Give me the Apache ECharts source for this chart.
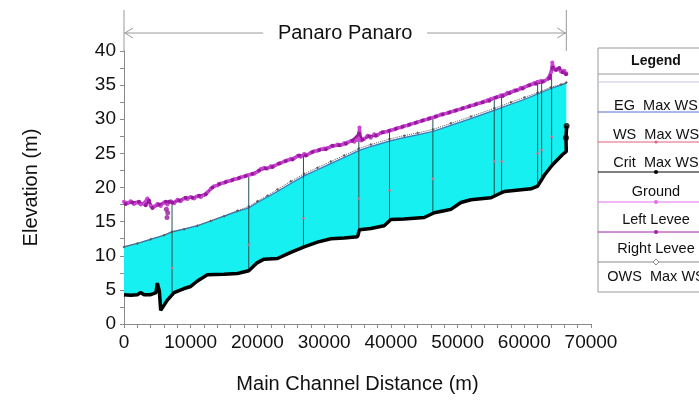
<!DOCTYPE html>
<html><head><meta charset="utf-8">
<script src="https://cdn.jsdelivr.net/npm/echarts@6/dist/echarts.min.js"></script>
<style>html,body{margin:0;padding:0;background:#fff}#c{width:699px;height:400px}</style>
</head><body><div id="c"></div>
<script>
// ---------- DATA ----------
const chartTitle = 'Panaro Panaro';
const xName = 'Main Channel Distance (m)';
const yName = 'Elevation (m)';
const reachEnd = 66300;

const groundDist = [0,1000,2000,2500,3000,4000,4800,5000,5300,5500,6500,7500,9000,10000,11000,12500,15000,17000,18700,20000,21000,23000,25000,27000,29000,31000,33000,35000,35300,37000,39000,40000,42000,45000,46500,48000,49000,50500,52000,55000,56500,57000,61000,62000,63000,64200,65700,66300];
const groundElev = [4.3,4.2,4.3,4.6,4.3,4.3,4.6,6.0,4.8,2.0,3.5,4.6,5.2,5.5,6.3,7.2,7.3,7.4,7.8,9.0,9.5,9.6,10.5,11.3,12.0,12.5,12.6,12.8,13.8,14.0,14.4,15.3,15.4,15.6,16.3,16.6,16.8,17.8,18.2,18.5,19.2,19.4,19.8,20.2,21.8,23.3,24.8,25.3];
const groundEndDist = [66250,66350];
const groundEndElev = [27.3,29.0];

const wsDist = [0,2000,4000,6000,7200,9000,11000,13000,15000,17000,18700,20000,21500,23000,25000,27000,29000,31000,33000,35200,37000,39800,42000,44000,46300,49000,52000,55500,58000,60000,62000,64000,65500,66300];
const wsElev = [11.3,11.8,12.4,13.0,13.5,13.9,14.4,15.1,15.8,16.5,17.0,17.8,18.6,19.4,20.6,21.7,22.6,23.5,24.4,25.4,26.0,26.8,27.3,27.7,28.2,29.1,30.1,31.3,32.2,32.9,33.7,34.5,35.0,35.3];
const egElev = [11.35,11.85,12.45,13.05,13.55,13.95,14.45,15.15,15.85,16.55,17.05,17.85,18.65,19.45,20.65,21.75,22.65,23.55,24.45,25.45,26.05,26.85,27.35,27.75,28.25,29.15,30.15,31.35,32.25,32.95,33.75,34.55,35.05,35.35];
const owsElev = [11.3,11.8,12.4,13.0,13.5,13.9,14.4,15.1,15.8,16.6,17.2,18.0,18.8,19.7,20.9,22.0,22.9,23.8,24.7,25.7,26.3,27.1,27.6,28.0,28.5,29.4,30.4,31.6,32.5,33.2,33.9,34.7,35.1,35.4];

const leftLeveeDist = [0,500,1000,1500,2000,2500,3000,3500,4000,4500,5000,5500,6000,6500,7000,7500,8000,8500,9000,9500,10000,10500,11000,11500,12000,12500,13000,13500,14000,14500,15000,15500,16000,16500,17000,17500,18000,18500,19000,19500,20000,20500,21000,21500,22000,22500,23000,23500,24000,24500,25000,25500,26000,26500,27000,27500,28000,28500,29000,29500,30000,30500,31000,31500,32000,32500,33000,33500,34000,34500,35000,35300,35500,36000,36500,37000,37500,38000,38500,39000,39500,40000,40500,41000,41500,42000,42500,43000,43500,44000,44500,45000,45500,46000,46500,47000,47500,48000,48500,49000,49500,50000,50500,51000,51500,52000,52500,53000,53500,54000,54500,55000,55500,56000,56500,57000,57500,58000,58500,59000,59500,60000,60500,61000,61500,62000,62500,63000,63500,64000,64200,64500,65000,65500,66000,66300];
const leftLeveeElev = [17.9,17.7,18.0,17.6,17.8,17.5,17.7,18.4,17.3,17.2,17.6,17.3,17.8,17.5,18.0,17.7,18.2,18.0,18.4,18.3,18.6,18.4,18.7,18.6,18.9,19.3,19.8,20.2,20.3,20.6,20.7,20.9,21.0,21.2,21.3,21.5,21.6,21.8,21.9,22.0,22.3,22.7,22.9,22.8,23.1,23.2,23.4,23.6,23.8,24.0,24.2,24.3,24.6,24.5,24.9,24.8,25.1,25.3,25.4,25.6,25.7,25.8,26.0,26.1,26.3,26.2,26.5,26.6,26.8,26.7,27.0,28.8,26.9,27.1,27.6,27.3,27.8,27.7,28.0,28.1,28.2,28.4,28.5,28.7,28.8,29.0,29.1,29.3,29.4,29.6,29.7,29.9,30.0,30.2,30.3,30.5,30.7,30.8,30.9,31.1,31.2,31.4,31.5,31.7,31.8,32.0,32.1,32.3,32.4,32.6,32.8,33.0,33.1,33.3,33.5,33.6,33.9,34.0,34.2,34.3,34.6,34.7,34.9,35.1,35.3,35.5,35.6,35.6,35.9,36.9,38.3,37.3,37.4,37.0,37.1,36.7];

const rightLeveeDist = [250,1250,2250,3250,3750,4250,5250,6250,6750,7250,8250,9250,10250,11250,12250,13250,14250,15250,16250,17250,18250,19250,20250,21250,22250,23250,24250,25250,26250,27250,28250,29250,30250,31250,32250,33250,34250,35250,35750,36750,37750,38750,39750,40750,41750,42750,43750,44750,45750,46750,47750,48750,49750,50750,51750,52750,53750,54750,55750,56750,57750,58750,59750,60750,61750,62750,63750,64250,64750,65250,65750,66250];
const rightLeveeElev = [17.6,17.8,17.9,17.4,18.1,17.0,17.5,17.9,17.9,17.8,18.1,18.5,18.5,18.8,19.0,20.0,20.5,20.8,21.1,21.4,21.7,22.0,22.5,22.8,23.0,23.5,23.9,24.1,24.7,24.7,25.2,25.5,25.6,26.1,26.2,26.4,26.9,27.9,27.0,27.5,27.6,28.1,28.3,28.6,28.9,29.2,29.5,29.8,30.1,30.4,30.7,31.0,31.3,31.6,31.9,32.2,32.5,32.7,33.2,33.4,33.8,34.2,34.5,35.0,35.2,35.5,36.0,37.6,37.2,37.5,36.9,36.6];
const leveeOutlierDist = [6350,6450,6550];
const leveeOutlierElev = [16.8,15.6,16.3];

const xsDist = [7200,18700,26900,35200,39800,46300,55500,56600,62000,62600,64100];
const xsBottom = [4.6,7.8,11.3,12.9,15.0,16.1,18.9,19.3,20.2,20.9,23.2];
const xsTop = [17.9,21.8,24.9,28.8,28.2,30.3,33.1,33.5,35.5,35.6,36.9];
const critElev = [8.2,11.6,15.5,18.4,19.6,21.3,23.8,23.8,25.0,25.5,27.4];

const legendNames = ['EG  Max WS','WS  Max WS','Crit  Max WS','Ground','Left Levee','Right Levee','OWS  Max WS'];
const legendColors = ['#c9c3e8','#5a6fd8','#e0607a','#000000','#e070e8','#a020a8','#888888'];

// ---------- BUILD ----------
const zip = (a, b) => a.map((d, i) => [d, b[i]]);
const FONT = '"Liberation Sans", Arial, Helvetica, sans-serif';
const chart = echarts.init(document.getElementById('c'), null, {renderer: 'canvas'});

const option = {
  animation: false,
  backgroundColor: '#fff',
  grid: {left: 124, right: 108, top: 51, bottom: 76},
  xAxis: {
    type: 'value', min: 0, max: 70000, interval: 10000,
    axisLine: {onZero: false, lineStyle: {color: '#8a8a8a', width: 1}},
    axisTick: {show: true, length: 4, lineStyle: {color: '#8a8a8a'}},
    minorTick: {show: true, splitNumber: 5, length: 4, lineStyle: {color: '#8a8a8a'}},
    splitLine: {show: false},
    axisLabel: {fontSize: 19, color: '#111', margin: 9, fontFamily: FONT, formatter: v => String(v)},
    name: xName, nameLocation: 'middle', nameGap: 50,
    nameTextStyle: {fontSize: 20, color: '#111', fontFamily: FONT}
  },
  yAxis: {
    type: 'value', min: 0, max: 40, interval: 5,
    axisLine: {show: true, lineStyle: {color: '#8a8a8a', width: 1}},
    axisTick: {show: true, length: 4, lineStyle: {color: '#8a8a8a'}},
    minorTick: {show: true, splitNumber: 2, length: 4, lineStyle: {color: '#8a8a8a'}},
    splitLine: {show: false},
    axisLabel: {fontSize: 19, color: '#111', margin: 8, fontFamily: FONT},
    name: yName, nameLocation: 'middle', nameGap: 83, nameRotate: 90,
    nameTextStyle: {fontSize: 20, color: '#111', fontFamily: FONT}
  },
  series: [
    {
      name: 'fill', type: 'custom', silent: true, z: 1, data: [0],
      renderItem: (params, api) => {
        const pts = wsDist.map((d, i) => api.coord([d, wsElev[i]]));
        for (let i = groundDist.length - 1; i >= 0; i--) pts.push(api.coord([groundDist[i], groundElev[i]]));
        return {type: 'polygon', shape: {points: pts}, style: {fill: '#17f0f0'}};
      }
    },
    {name: legendNames[0], type: 'line', data: zip(wsDist, egElev), showSymbol: false, z: 3,
      lineStyle: {color: legendColors[0], width: 1}},
    {name: legendNames[1], type: 'line', data: zip(wsDist, wsElev), showSymbol: false, z: 3,
      lineStyle: {color: '#2f7fb8', width: 1.2}},
    {name: legendNames[6], type: 'line', data: zip(wsDist, owsElev), symbol: 'diamond', symbolSize: 3, z: 3,
      itemStyle: {color: '#5e5e5e'}, lineStyle: {color: '#5e5e5e', width: 1, type: 'dotted'}},
    {
      name: 'sections', type: 'custom', silent: true, z: 4,
      data: xsDist.map((d, i) => [d, xsBottom[i], xsTop[i]]),
      encode: {x: 0, y: [1, 2]},
      renderItem: (params, api) => {
        const a = api.coord([api.value(0), api.value(1)]);
        const b = api.coord([api.value(0), api.value(2)]);
        return {type: 'line', shape: {x1: a[0], y1: a[1], x2: b[0], y2: b[1]},
          style: {stroke: '#234f52', lineWidth: 1}};
      }
    },
    {name: legendNames[2], type: 'scatter', data: zip(xsDist, critElev), symbolSize: 3, z: 5,
      itemStyle: {color: '#e8708c'}},
    {name: legendNames[4], type: 'line', data: zip(leftLeveeDist, leftLeveeElev), symbol: 'circle', symbolSize: 4, z: 6,
      itemStyle: {color: '#cc44d4'}, lineStyle: {color: '#cc44d4', width: 3}},
    {name: legendNames[5], type: 'line', data: zip(rightLeveeDist, rightLeveeElev), symbol: 'circle', symbolSize: 4, z: 6,
      itemStyle: {color: '#951a9c'}, lineStyle: {color: '#951a9c', width: 2.5}},
    {name: 'leveeOutliers', type: 'scatter', data: zip(leveeOutlierDist, leveeOutlierElev), symbolSize: 5, z: 6,
      itemStyle: {color: '#951a9c'}},
    {name: legendNames[3], type: 'line', data: zip(groundDist, groundElev).concat(zip(groundEndDist, groundEndElev)), showSymbol: false, z: 7,
      lineStyle: {color: '#000', width: 3.5}},
    {name: 'groundEnd', type: 'scatter', data: zip(groundEndDist, groundEndElev), symbolSize: 6, z: 7,
      itemStyle: {color: '#000'}}
  ]
};
chart.setOption(option);

// ---------- title bracket & legend ----------
const pL = chart.convertToPixel({gridIndex: 0}, [0, 40]);
const pR = chart.convertToPixel({gridIndex: 0}, [reachEnd, 40]);
const topY = 10, arrowY = 33, midX = (pL[0] + pR[0]) / 2;
const bc = '#9a9a9a';
const graphics = [
  {type: 'line', shape: {x1: pL[0], y1: topY, x2: pL[0], y2: pL[1]}, style: {stroke: bc, lineWidth: 1}},
  {type: 'line', shape: {x1: pR[0], y1: topY, x2: pR[0], y2: pL[1]}, style: {stroke: bc, lineWidth: 1}},
  {type: 'line', shape: {x1: pL[0], y1: arrowY, x2: midX - 82, y2: arrowY}, style: {stroke: bc, lineWidth: 1}},
  {type: 'line', shape: {x1: midX + 82, y1: arrowY, x2: pR[0], y2: arrowY}, style: {stroke: bc, lineWidth: 1}},
  {type: 'polyline', shape: {points: [[pL[0] + 9, arrowY - 5], [pL[0] + 1, arrowY], [pL[0] + 9, arrowY + 5]]}, style: {stroke: bc, fill: null, lineWidth: 1}},
  {type: 'polyline', shape: {points: [[pR[0] - 9, arrowY - 5], [pR[0] - 1, arrowY], [pR[0] - 9, arrowY + 5]]}, style: {stroke: bc, fill: null, lineWidth: 1}},
  {type: 'text', x: midX, y: arrowY, style: {text: chartTitle, fontSize: 20, fontFamily: FONT, fill: '#111', align: 'center', verticalAlign: 'middle'}}
];
// legend box
const lx = 598, ly = 48, lw = 130, lh = 244, lcx = 656;
graphics.push({type: 'rect', shape: {x: lx, y: ly, width: lw, height: lh}, style: {fill: '#fff', stroke: '#9a9a9a', lineWidth: 1}, z: 10});
graphics.push({type: 'text', x: lcx, y: 61, z: 11, style: {text: 'Legend', fontSize: 14, fontWeight: 'bold', fontFamily: FONT, fill: '#111', align: 'center', verticalAlign: 'middle'}});
graphics.push({type: 'line', z: 11, shape: {x1: lx, y1: 74, x2: lx + lw, y2: 74}, style: {stroke: '#9a9a9a', lineWidth: 1}});
const rowLineY = [82, 112, 142, 172, 202, 232, 262];
const rowTextY = [106, 134.5, 163, 191.5, 220, 248.5, 277];
const markers = [null, null, 'circle', 'circle', 'circle', 'circle', 'diamond'];
legendNames.forEach((n, i) => {
  graphics.push({type: 'line', z: 11, shape: {x1: lx, y1: rowLineY[i], x2: lx + lw, y2: rowLineY[i]}, style: {stroke: legendColors[i], lineWidth: 1}});
  if (markers[i] === 'circle') {
    graphics.push({type: 'circle', z: 12, shape: {cx: lcx, cy: rowLineY[i], r: i === 2 ? 1.5 : 2}, style: {fill: legendColors[i]}});
  } else if (markers[i] === 'diamond') {
    graphics.push({type: 'polygon', z: 12, shape: {points: [[lcx, rowLineY[i] - 3], [lcx + 3, rowLineY[i]], [lcx, rowLineY[i] + 3], [lcx - 3, rowLineY[i]]]}, style: {fill: '#fff', stroke: legendColors[i], lineWidth: 1}});
  }
  graphics.push({type: 'text', x: lcx, y: rowTextY[i], z: 11, style: {text: n, fontSize: 14.5, fontFamily: FONT, fill: '#111', align: 'center', verticalAlign: 'middle'}});
});
chart.setOption({graphic: graphics});
</script>
</body></html>
